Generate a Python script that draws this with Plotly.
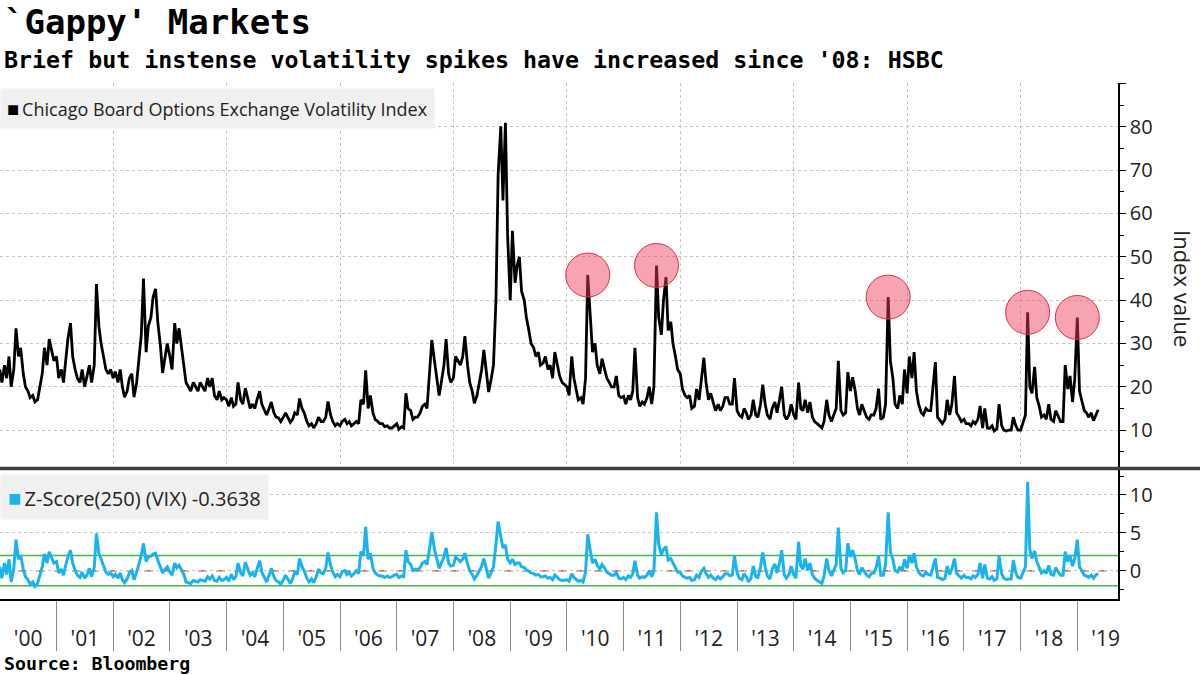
import pandas as pd
import plotly.graph_objects as go

# ---------------- data (half-monthly readings: 1st and 15th of each month) ----------------
vix_2000 = [24, 21, 25, 22, 27, 20, 24, 33.5, 27, 29, 23, 20, 19, 17.5, 18, 16.5, 17, 20, 23, 29, 25, 31, 28, 26]
vix_2001 = [27, 22, 24, 21, 26, 31, 34.7, 27, 24, 22, 21, 24, 20, 22, 25, 21, 25, 43.7, 34, 30, 27, 24, 23, 24]
vix_2002 = [22, 23.5, 21, 24, 20, 17.6, 19, 22, 23, 17.6, 21, 26, 32, 45, 28, 34, 36, 40.7, 42.6, 35, 29.5, 23.2, 27, 30]
vix_2003 = [27, 24, 34.7, 30, 33.5, 29.5, 26, 21, 20, 19, 21, 20, 19, 21, 20, 19, 22, 20, 22, 18, 17, 19, 17, 17.5]
vix_2004 = [17, 15.5, 17.5, 15.5, 16, 21, 17, 16, 19.7, 17.5, 15, 16, 15, 17, 19, 16, 14.5, 13.5, 15, 16.5, 14, 13, 12.8, 12]
vix_2005 = [13, 14, 12.8, 11.8, 12.5, 14, 13.5, 17.3, 15, 14, 12, 11, 11.5, 10.5, 11.5, 13, 12, 12, 13, 16.6, 13.5, 12, 11, 11.5]
vix_2006 = [11, 12, 12.5, 11.5, 12, 11, 11.5, 12, 11.5, 17, 16, 23.8, 15, 18, 14, 12.5, 12, 11.5, 11.5, 10.8, 11, 10.5, 10.5, 11]
vix_2007 = [11.5, 10.2, 10.8, 10.5, 18.5, 15, 14.5, 12.5, 13, 13, 14, 15.5, 16, 15, 24, 30.8, 26, 22, 18, 21, 25, 31, 23, 21]
vix_2008 = [22, 27, 26, 25, 27, 31.7, 25, 21, 19, 16.2, 18, 21, 24, 28.5, 23, 18.8, 22, 25, 40, 69, 80.1, 63, 80.9, 55]
vix_2009 = [40, 56, 44, 48, 50, 42, 40, 36, 33, 30, 29, 27, 28, 25, 25.5, 27, 24, 25, 22, 28, 25, 22.5, 21, 20.5]
vix_2010 = [20, 18, 27, 22, 19.5, 17, 17.5, 16, 22, 45.8, 36, 28, 30, 25, 23, 26.5, 24, 22, 21, 20, 20, 22.5, 18, 17.5]
vix_2011 = [17.8, 16, 18, 17, 19, 29, 17.5, 15.5, 16.5, 16, 17.5, 20, 16, 20, 48, 36, 32, 40, 45.3, 33, 35, 30, 27, 24]
vix_2012 = [23, 19.5, 18, 17.5, 18, 15, 15.5, 19.5, 17, 22, 26.7, 21, 17, 18.5, 16, 14.5, 16, 14.5, 15.5, 17.5, 17.5, 16, 16, 22]
vix_2013 = [14.5, 13.5, 13, 15, 14, 12.5, 13.5, 17, 13.5, 13, 16, 20.5, 16, 13.5, 12.5, 15, 16.5, 14, 17, 20, 13.5, 12.5, 13.5, 16]
vix_2014 = [13.5, 12.5, 21, 15, 14.5, 17, 14, 16.5, 13, 12, 11.5, 11, 10.5, 12, 17, 13.5, 12, 13.5, 15, 26, 14.5, 13.5, 14, 23.4]
vix_2015 = [19, 22.2, 19, 15, 13.5, 16, 14.5, 13, 12.5, 13.5, 13.5, 15, 19.6, 12.5, 13, 16, 40.7, 26, 22, 16, 15, 18, 16, 24]
vix_2016 = [18.5, 27, 22, 28, 19, 16, 14, 13.5, 15, 14.5, 14.5, 20, 25.7, 13, 12, 11.5, 12.5, 17, 13.5, 16, 22.5, 14, 13, 12]
vix_2017 = [12.5, 11.5, 11.5, 11, 12, 11.5, 12.5, 15.6, 10.5, 15, 10.5, 10.4, 11, 9.8, 10.3, 16, 11, 10, 9.8, 10, 10, 13, 11, 10]
vix_2018 = [10, 11.5, 13.5, 37.2, 20, 18.5, 24.6, 17.5, 15.5, 13, 13.5, 12.5, 16, 12.5, 12, 14.5, 13, 12, 12, 25, 19.5, 22.5, 16.5, 21.6]
vix_2019 = [36, 19, 16.5, 14.5, 14, 13, 14, 12.2, 13.5, 14.7]

z_2000 = [0.5, -1.0, 1.0, -0.5, 1.5, -1.5, 0.3, 4.1, 1.5, 2.0, 0.2, -0.8, -1.2, -1.8, -1.5, -2.1, -1.7, -0.6, 0.5, 2.2, 1.0, 2.5, 1.7, 1.0]
z_2001 = [1.2, -0.3, 0.2, -0.6, 0.7, 1.8, 2.7, 1.0, 0.0, -0.6, -0.9, -0.2, -1.0, -0.6, 0.3, -0.8, 0.4, 4.9, 2.3, 1.5, 0.6, -0.2, -0.5, -0.3]
z_2002 = [-0.8, -0.5, -1.0, -0.3, -1.2, -1.6, -1.1, -0.3, 0.0, -1.2, -0.2, 0.8, 2.0, 3.6, 1.2, 1.8, 1.9, 2.2, 2.3, 1.4, 0.5, -0.3, 0.2, 0.5]
z_2003 = [-0.2, -0.6, 1.0, 0.4, 0.7, 0.2, -0.5, -1.5, -1.6, -1.7, -1.3, -1.4, -1.5, -1.2, -1.3, -1.4, -0.8, -1.1, -0.7, -1.3, -1.4, -0.9, -1.3, -1.2]
z_2004 = [-0.9, -1.4, -0.5, -1.2, -0.8, 1.0, -0.3, -0.7, 1.1, 0.3, -0.6, -0.3, -0.8, 0.2, 1.3, -0.2, -1.0, -1.5, -0.6, 0.3, -0.8, -1.3, -1.5, -1.8]
z_2005 = [-1.2, -0.6, -1.2, -1.7, -1.1, -0.2, -0.5, 1.6, 0.5, 0.0, -1.0, -1.5, -1.1, -1.6, -0.8, 0.2, -0.3, -0.4, 0.3, 2.4, 0.7, -0.2, -0.8, -0.5]
z_2006 = [-0.8, -0.1, 0.0, -0.5, -0.2, -0.7, -0.4, 0.0, -0.4, 2.5, 2.0, 5.8, 1.5, 2.3, 0.3, -0.3, -0.6, -0.7, -0.7, -0.9, -0.7, -0.9, -0.8, -0.6]
z_2007 = [-0.5, -0.9, -0.7, -0.8, 2.7, 1.2, 0.8, 0.0, 0.2, 0.1, 0.4, 1.0, 1.2, 0.8, 3.0, 5.1, 2.8, 1.5, 0.3, 1.0, 1.8, 3.0, 1.0, 0.6]
z_2008 = [0.7, 1.8, 1.4, 1.2, 1.5, 2.3, 0.9, 0.0, -0.5, -1.1, -0.6, 0.0, 0.6, 1.6, 0.3, -1.0, -0.2, 0.5, 3.5, 6.5, 4.5, 3.0, 3.4, 1.5]
z_2009 = [1.0, 1.5, 0.8, 1.0, 1.0, 0.5, 0.4, 0.1, -0.1, -0.3, -0.4, -0.6, -0.5, -0.8, -0.8, -0.7, -1.0, -0.9, -1.2, -0.6, -0.9, -1.2, -1.3, -1.3]
z_2010 = [-1.2, -1.4, -0.4, -0.9, -1.1, -1.4, -1.3, -1.5, -0.2, 4.8, 2.6, 1.0, 1.5, 0.7, 0.2, 0.8, 0.3, -0.2, -0.4, -0.6, -0.6, -0.2, -1.0, -1.1]
z_2011 = [-0.9, -1.2, -0.7, -0.9, -0.4, 1.3, -0.6, -1.0, -0.8, -0.9, -0.6, 0.0, -0.8, -0.1, 7.7, 3.5, 2.1, 2.8, 3.2, 1.4, 1.6, 1.0, 0.4, -0.2]
z_2012 = [-0.2, -0.7, -0.9, -1.0, -0.9, -1.3, -1.2, -0.6, -0.9, -0.1, 0.3, -0.4, -0.9, -0.6, -1.0, -1.2, -0.8, -1.1, -0.8, -0.4, -0.4, -0.7, -0.6, 1.9]
z_2013 = [-0.3, -1.0, -1.2, -0.4, -0.8, -1.5, -1.0, 0.6, -0.8, -0.9, 0.5, 2.4, 0.5, -0.7, -1.1, 0.2, 0.9, -0.3, 1.0, 2.7, -0.6, -1.0, -0.5, 0.6]
z_2014 = [-0.6, -1.0, 3.8, 0.6, 0.2, 1.6, 0.0, 1.0, -0.5, -1.0, -1.3, -1.5, -1.7, -0.7, 1.6, 0.0, -0.7, 0.0, 0.8, 5.7, 0.3, -0.3, 0.0, 3.6]
z_2015 = [1.8, 2.7, 1.5, 0.0, -0.5, 0.4, -0.2, -0.6, -0.8, -0.4, -0.3, 0.4, 1.9, -0.6, -0.6, 0.8, 7.7, 2.5, 1.5, 0.0, -0.2, 0.5, 0.0, 1.5]
z_2016 = [0.3, 2.0, 1.0, 2.3, 0.5, -0.2, -0.6, -0.7, -0.2, -0.5, -0.6, 0.5, 1.6, -0.9, -1.0, -1.2, -1.0, 0.6, -0.5, 0.2, 1.6, -0.4, -0.7, -1.0]
z_2017 = [-0.6, -0.9, -0.9, -1.1, -0.7, -0.9, -0.5, 1.0, -1.0, 0.8, -1.0, -1.1, -0.8, -1.3, -1.1, 1.9, -0.4, -1.0, -1.2, -1.1, -1.1, 1.4, -0.3, -0.9]
z_2018 = [-1.0, -0.3, 0.5, 11.7, 2.8, 1.6, 2.6, 1.2, 0.4, -0.3, 0.0, -0.4, 0.7, -0.5, -0.6, 0.4, -0.2, -0.6, -0.6, 2.5, 1.2, 2.0, 0.6, 1.5]
z_2019 = [4.1, 0.5, -0.1, -0.6, -0.7, -0.9, -0.6, -1.0, -0.6, -0.36]

vix_values = (vix_2000 + vix_2001 + vix_2002 + vix_2003 + vix_2004 + vix_2005 + vix_2006
              + vix_2007 + vix_2008 + vix_2009 + vix_2010 + vix_2011 + vix_2012 + vix_2013
              + vix_2014 + vix_2015 + vix_2016 + vix_2017 + vix_2018 + vix_2019)
z_values = (z_2000 + z_2001 + z_2002 + z_2003 + z_2004 + z_2005 + z_2006 + z_2007 + z_2008
            + z_2009 + z_2010 + z_2011 + z_2012 + z_2013 + z_2014 + z_2015 + z_2016 + z_2017
            + z_2018 + z_2019)
dates = pd.date_range("2000-01-01", periods=len(vix_values), freq="SMS")

spike_dates = ["2010-05-15", "2011-08-01", "2015-09-01", "2018-02-15", "2019-01-01"]
z_bands = [-2, 2]
z_mid = 0
z_last_label = "-0.3638"

vix_by_date = dict(zip(dates.strftime("%Y-%m-%d"), vix_values))
spike_vals = [vix_by_date[d] for d in spike_dates]

# ---------------- figure ----------------
X_RANGE = ["2000-01-03", "2019-09-20"]
PLOT_TOP, PLOT_BOT = 83, 599
H = PLOT_BOT - PLOT_TOP
W = 1118


def py(p):
    return (PLOT_BOT - p) / H


fig = go.Figure()
fig.add_trace(go.Scatter(x=dates, y=vix_values, mode="lines",
                         line=dict(color="#000000", width=2.8), xaxis="x", yaxis="y",
                         hoverinfo="skip"))
fig.add_trace(go.Scatter(x=pd.to_datetime(spike_dates), y=spike_vals, mode="markers",
                         marker=dict(size=44, color="rgba(240,60,90,0.47)",
                                     line=dict(color="#e0303f", width=1)),
                         xaxis="x", yaxis="y", hoverinfo="skip"))
fig.add_trace(go.Scatter(x=dates, y=z_values, mode="lines",
                         line=dict(color="#19b4ef", width=3), xaxis="x2", yaxis="y2",
                         hoverinfo="skip"))

tickfont = dict(family="Open Sans", size=20, color="#222222")
grid = dict(showgrid=True, gridcolor="#c4c4c4", griddash="dot", gridwidth=1)

fig.update_layout(
    width=1200, height=675,
    margin=dict(l=0, r=1200 - W, t=PLOT_TOP, b=675 - PLOT_BOT),
    paper_bgcolor="white", plot_bgcolor="white",
    showlegend=False,
    xaxis=dict(domain=[0, 1], anchor="y", type="date", range=X_RANGE,
               dtick="M24", tick0="2000-01-01", showticklabels=False, ticks="",
               zeroline=False, showline=False, **grid),
    yaxis=dict(domain=[py(467), 1], anchor="x", side="right", range=[1.5, 90.1],
               tickvals=[10, 20, 30, 40, 50, 60, 70, 80, 90],
               ticktext=["10", "20", "30", "40", "50", "60", "70", "80", ""],
               ticks="outside", ticklen=6, tickcolor="#000", tickwidth=1.2,
               showline=True, linecolor="#000", linewidth=1.5,
               minor=dict(tickvals=[5, 15, 25, 35, 45, 55, 65, 75, 85], ticks="outside",
                          ticklen=4, tickcolor="#000", showgrid=False),
               tickfont=tickfont, zeroline=False, **grid),
    xaxis2=dict(domain=[0, 1], anchor="y2", type="date", range=X_RANGE,
                dtick="M12", tick0="2000-01-01", ticklabelmode="period", tickformat="'%y",
                ticks="outside", ticklen=50, tickcolor="#8a8a8a", tickwidth=1,
                ticklabelstandoff=-30,
                showline=True, linecolor="#000", linewidth=1.5, showgrid=False,
                zeroline=False, tickfont=dict(family="Open Sans", size=21, color="#222222")),
    xaxis3=dict(overlaying="x2", anchor="y2", type="date", range=X_RANGE,
                dtick="M24", tick0="2000-01-01", showticklabels=False, ticks="",
                showline=False, zeroline=False, **grid),
    yaxis2=dict(domain=[0, py(470)], anchor="x2", side="right", range=[-3.75, 13.3],
                tickvals=[0, 5, 10], ticktext=["0", "5", "10"],
                ticks="outside", ticklen=6, tickcolor="#000", tickwidth=1.2,
                showline=True, linecolor="#000", linewidth=1.5,
                minor=dict(tickvals=[-2.5, 2.5, 7.5, 12.5], ticks="outside", ticklen=4,
                           tickcolor="#000", showgrid=False),
                tickfont=tickfont, zeroline=False, **grid),
)

# reference lines in the z-score panel
for b in z_bands:
    fig.add_shape(type="line", xref="x2 domain", yref="y2", x0=0, x1=1, y0=b, y1=b,
                  line=dict(color="#44b844", width=1.5), layer="below")
fig.add_shape(type="line", xref="x2 domain", yref="y2", x0=0, x1=1, y0=z_mid, y1=z_mid,
              line=dict(color="#e2552a", width=1.5, dash="dash"), layer="below")

# panel divider
fig.add_shape(type="line", xref="paper", yref="paper", x0=0, x1=1200 / W,
              y0=py(468.5), y1=py(468.5), line=dict(color="#404040", width=3.5))

mono = "DejaVu Sans Mono"
anns = [
    dict(text="<b>`Gappy' Markets</b>", x=0.0015, y=py(22), font=dict(family=mono, size=34, color="#000")),
    dict(text="<b>Brief but instense volatility spikes have increased since '08: HSBC</b>",
         x=0.0015, y=py(60), font=dict(family=mono, size=23.3, color="#000")),
    dict(text="<b>Source: Bloomberg</b>", x=0.0015, y=py(663),
         font=dict(family=mono, size=18.2, color="#000")),
]
for a in anns:
    fig.add_annotation(xref="paper", yref="paper", xanchor="left", yanchor="middle",
                       showarrow=False, **a)

fig.add_annotation(xref="paper", yref="paper", x=0, y=py(88), xanchor="left", yanchor="top",
                   showarrow=False, bgcolor="#f0f0f0", borderpad=6, align="left",
                   text="<span style='color:#000;font-size:20px'>■</span>\u2009Chicago Board Options Exchange Volatility Index",
                   font=dict(family="Open Sans", size=18, color="#222"))
fig.add_annotation(xref="paper", yref="paper", x=0, y=py(474), xanchor="left", yanchor="top",
                   showarrow=False, bgcolor="#f0f0f0", borderpad=7, align="left",
                   text="<span style='color:#19b4ef;font-size:22px'>■</span>\u2009Z-Score(250) (VIX) " + z_last_label,
                   font=dict(family="Open Sans", size=20, color="#222"))
fig.add_annotation(xref="paper", yref="paper", x=1183 / W, y=py(288), xanchor="center",
                   yanchor="middle", textangle=90, showarrow=False, text="Index value",
                   font=dict(family="Open Sans", size=22, color="#222"))

fig.write_html("out.html")
